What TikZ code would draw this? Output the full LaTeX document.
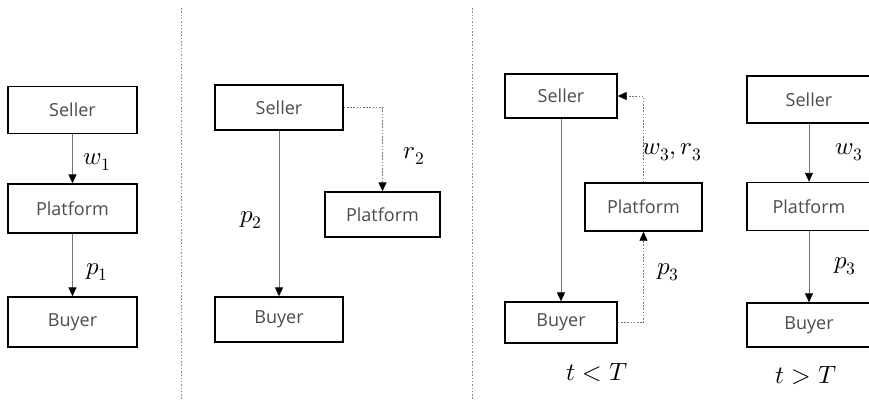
\documentclass[tikz,border=0pt]{standalone}
\usepackage{fontspec}
\usepackage{unicode-math}
\setmathfont{Latin Modern Math}
\newfontfamily\boxfont{Open Sans}
\usetikzlibrary{arrows.meta}

\tikzset{
	agent/.style={draw=black, line width=1.4pt, fill=white, text=black!70, inner sep=0pt,
		font=\boxfont\fontsize{18}{21}\selectfont},
	flow/.style={draw=black!55, line width=0.9pt, -{Triangle[length=9pt,width=8pt,color=black]}},
	side/.style={flow, dash pattern=on 1.6pt off 1.6pt},
	lab/.style={font=\fontsize{25}{30}\selectfont, inner sep=0pt},
	divider/.style={draw=black!45, line width=1pt, dash pattern=on 1.5pt off 1.8pt}
}

\begin{document}
\begin{tikzpicture}[x=1pt,y=-1pt]
	\useasboundingbox (0,0) rectangle (869,399);
	
	% dividers between the cases
	\draw[divider] (181,8) -- (181,399);
	\draw[divider] (472,8) -- (472,399);
	
	% case 1
	\node[agent, minimum width=129pt, minimum height=47pt] (s1) at (72.5,110) {Seller};
	\node[agent, minimum width=129pt, minimum height=49pt] (pl1) at (72.5,208.5) {Platform};
	\node[agent, minimum width=129pt, minimum height=50pt] (b1) at (72.5,322) {Buyer};
	\draw[flow] (s1) -- (pl1);
	\draw[flow] (pl1) -- (b1);
	\node[lab] (lw1) at (97,162) {$w_1$};
	\node[lab] (lp1) at (97,272) {$p_1$};
	
	% case 2
	\node[agent, minimum width=128pt, minimum height=45pt] (s2) at (279,107.5) {Seller};
	\node[agent, minimum width=115pt, minimum height=45pt] (pl2) at (382.5,214.5) {Platform};
	\node[agent, minimum width=128pt, minimum height=45pt] (b2) at (279,319.5) {Buyer};
	\draw[flow] (s2) -- (b2);
	\draw[side] (s2.east) -| (pl2.north);
	\node[lab] (lp2) at (251,220) {$p_2$};
	\node[lab] (lr2) at (414,156) {$r_2$};
	
	% case 3, before T
	\node[agent, minimum width=112pt, minimum height=44pt] (s3) at (561,96) {Seller};
	\node[agent, minimum width=117pt, minimum height=48pt] (pl3) at (643.5,207) {Platform};
	\node[agent, minimum width=112pt, minimum height=41pt] (b3) at (561,322.5) {Buyer};
	\draw[flow] (s3) -- (b3);
	\draw[side] (b3.east) -| (pl3.south);
	\draw[side] (pl3.north) |- (s3.east);
	\node[lab] (lwr3) at (672,152) {$w_3,r_3$};
	\node[lab] (lp3) at (668,272) {$p_3$};
	\node[lab] (lt3) at (597,373) {$t<T$};
	
	% case 3, after T
	\node[agent, minimum width=124pt, minimum height=47pt] (s4) at (809,99.5) {Seller};
	\node[agent, minimum width=124pt, minimum height=48pt] (pl4) at (809,206.5) {Platform};
	\node[agent, minimum width=124pt, minimum height=44pt] (b4) at (809,325) {Buyer};
	\draw[flow] (s4) -- (pl4);
	\draw[flow] (pl4) -- (b4);
	\node[lab] (lw4) at (849,152) {$w_3$};
	\node[lab] (lp4) at (845,266) {$p_3$};
	\node[lab] (lt4) at (806,376) {$t>T$};
\end{tikzpicture}
\end{document}
